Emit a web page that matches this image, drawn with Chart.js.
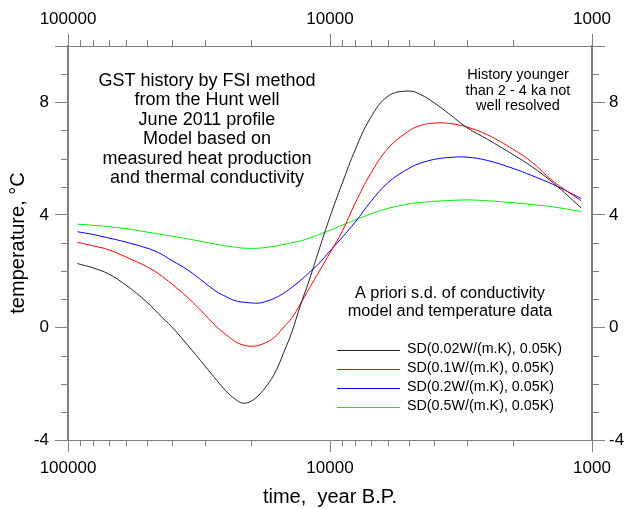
<!DOCTYPE html>
<html>
<head>
<meta charset="utf-8">
<script src="https://cdn.jsdelivr.net/npm/chart.js@4.4.0/dist/chart.umd.min.js"></script>
<style>
  html, body { margin: 0; padding: 0; background: #ffffff; }
  #wrap { width: 627px; height: 509px; }
</style>
</head>
<body>
<div id="wrap"><canvas id="c" width="627" height="509"></canvas></div>
<script>
// ---------- data ----------
const years = [92000, 80000, 70000, 60000, 50000, 45000, 40000, 35000, 30000, 27000, 25000, 23000, 21500, 20000, 18500, 17000, 16000, 15000, 14000, 13000, 12000, 11000, 10000, 9000, 8000, 7000, 6000, 5000, 4500, 4000, 3500, 3000, 2500, 2000, 1700, 1400, 1100];

const sd002 = [2.27, 2.11, 1.90, 1.50, 0.90, 0.47, 0.00, -0.62, -1.37, -1.89, -2.25, -2.55, -2.69, -2.62, -2.36, -1.93, -1.50, -0.88, -0.18, 0.76, 1.68, 2.77, 3.93, 5.10, 6.33, 7.45, 8.22, 8.40, 8.27, 7.98, 7.58, 7.10, 6.68, 6.14, 5.72, 5.12, 4.25];
const sd01  = [3.02, 2.90, 2.76, 2.50, 2.16, 1.90, 1.53, 1.07, 0.45, 0.01, -0.25, -0.50, -0.62, -0.67, -0.62, -0.47, -0.28, 0.02, 0.33, 0.82, 1.39, 1.99, 2.65, 3.40, 4.43, 5.46, 6.37, 6.98, 7.18, 7.26, 7.25, 7.12, 6.84, 6.33, 5.88, 5.18, 4.50];
const sd02  = [3.40, 3.30, 3.18, 3.03, 2.82, 2.65, 2.37, 2.05, 1.58, 1.26, 1.10, 0.95, 0.90, 0.87, 0.87, 0.97, 1.07, 1.22, 1.42, 1.66, 1.95, 2.28, 2.72, 3.19, 3.75, 4.46, 5.15, 5.65, 5.84, 5.97, 6.04, 6.05, 5.93, 5.65, 5.40, 5.07, 4.58];
const sd05  = [3.67, 3.63, 3.58, 3.51, 3.39, 3.32, 3.24, 3.15, 3.03, 2.95, 2.90, 2.85, 2.82, 2.81, 2.82, 2.86, 2.90, 2.95, 3.01, 3.07, 3.17, 3.30, 3.45, 3.63, 3.82, 4.03, 4.23, 4.39, 4.44, 4.48, 4.51, 4.53, 4.50, 4.43, 4.37, 4.28, 4.12];

const seriesLabels = ['SD(0.02W/(m.K), 0.05K)', 'SD(0.1W/(m.K), 0.05K)', 'SD(0.2W/(m.K), 0.05K)', 'SD(0.5W/(m.K), 0.05K)'];

const xTickValues = [100000, 10000, 1000];
const xMinorValues = [90000, 80000, 70000, 60000, 50000, 40000, 30000, 20000, 9000, 8000, 7000, 6000, 5000, 4000, 3000, 2000];
const yTickValues = [-4, 0, 4, 8];
const yMinorValues = [-3, -2, -1, 1, 2, 3, 5, 6, 7, 9];

const infoLines = ['GST history by FSI method', 'from the Hunt well', 'June 2011 profile', 'Model based on', 'measured heat production', 'and thermal conductivity'];
const noteLines = ['History younger', 'than 2 - 4 ka not', 'well resolved'];
const legendTitleLines = ['A priori s.d. of conductivity', 'model and temperature data'];

const xTitle = 'time,  year B.P.';
const yTitle = 'temperature, °C';

// ---------- styles ----------
const FONT = '"Liberation Sans", Arial, Helvetica, sans-serif';
const AXIS = '#808080';
const colors = ['#222222', '#ff0000', '#0000ff', '#00ee00'];
const seriesData = [sd002, sd01, sd02, sd05];

const datasets = seriesData.map((arr, i) => ({
  label: seriesLabels[i],
  data: years.map((t, j) => ({ x: t, y: arr[j] })),
  borderColor: colors[i],
  borderWidth: 1,
  pointRadius: 0,
  fill: false,
  tension: 0.4,
  xAxisID: 'x',
  yAxisID: 'y'
}));

const tickFont = { family: FONT, size: 17 };

function xAxis(pos) {
  return {
    type: 'logarithmic',
    position: pos,
    min: 1000, max: 100000,
    reverse: true,
    afterBuildTicks: s => { s.ticks = xTickValues.map(v => ({ value: v })); },
    afterFit: s => { s.height = pos === 'bottom' ? 69 : 46; },
    ticks: { callback: v => String(v), autoSkip: false, maxRotation: 0, minRotation: 0, color: '#000', font: tickFont, padding: pos === 'bottom' ? 6 : 4 },
    grid: { drawOnChartArea: false, drawTicks: true, tickLength: 12, color: AXIS, lineWidth: 1 },
    border: { display: true, color: AXIS, width: 1 },
    title: pos === 'bottom'
      ? { display: true, text: xTitle, color: '#000', font: { family: FONT, size: 20 }, padding: { top: 0, bottom: 0 } }
      : { display: false }
  };
}
function yAxis(pos) {
  return {
    type: 'linear',
    position: pos,
    min: -4, max: 10,
    afterBuildTicks: s => { s.ticks = yTickValues.concat([10]).map(v => ({ value: v })); },
    afterFit: s => { s.width = pos === 'left' ? 68 : 35; },
    ticks: { callback: v => (yTickValues.includes(v) ? String(v) : ''), color: '#000', font: tickFont, padding: pos === 'left' ? 6 : 4 },
    grid: { drawOnChartArea: false, drawTicks: true, tickLength: 13, color: AXIS, lineWidth: 1 },
    border: { display: true, color: AXIS, width: 2 },
    title: pos === 'left'
      ? { display: true, text: yTitle, color: '#000', font: { family: FONT, size: 20 }, padding: { top: 6, bottom: 0 } }
      : { display: false }
  };
}

const decorPlugin = {
  id: 'decor',
  afterDraw(chart) {
    const ctx = chart.ctx;
    const xs = chart.scales.x, ys = chart.scales.y;
    const a = chart.chartArea;
    ctx.save();
    // minor ticks
    ctx.strokeStyle = AXIS;
    ctx.lineWidth = 1;
    ctx.beginPath();
    xMinorValues.forEach(v => {
      const px = Math.round(xs.getPixelForValue(v)) + 0.5;
      ctx.moveTo(px, a.bottom); ctx.lineTo(px, a.bottom + 6);
      ctx.moveTo(px, a.top); ctx.lineTo(px, a.top - 6);
    });
    yMinorValues.forEach(v => {
      const py = Math.round(ys.getPixelForValue(v)) + 0.5;
      ctx.moveTo(a.left, py); ctx.lineTo(a.left - 7, py);
      ctx.moveTo(a.right, py); ctx.lineTo(a.right + 7, py);
    });
    ctx.stroke();

    ctx.fillStyle = '#000';
    ctx.textAlign = 'center';
    ctx.textBaseline = 'middle';
    // main info text
    ctx.font = '18px ' + FONT;
    infoLines.forEach((t, i) => ctx.fillText(t, 207, 81 + i * 19.5));
    // note
    ctx.font = '14.5px ' + FONT;
    noteLines.forEach((t, i) => ctx.fillText(t, 518, 75 + i * 15.5));
    // legend title
    ctx.font = '16.3px ' + FONT;
    legendTitleLines.forEach((t, i) => ctx.fillText(t, 450, 293.5 + i * 18.5));
    // legend entries
    ctx.font = '14.3px ' + FONT;
    ctx.textAlign = 'left';
    chart.data.datasets.forEach((ds, i) => {
      const y = 349.5 + i * 19;
      ctx.strokeStyle = ds.borderColor;
      ctx.lineWidth = 1;
      ctx.beginPath();
      ctx.moveTo(337, Math.round(y) + 0.5);
      ctx.lineTo(400, Math.round(y) + 0.5);
      ctx.stroke();
      ctx.fillText(ds.label, 407, y);
    });
    ctx.restore();
  }
};

new Chart(document.getElementById('c'), {
  type: 'line',
  data: { datasets },
  options: {
    responsive: false,
    animation: false,
    devicePixelRatio: 1,
    layout: { padding: 0 },
    plugins: { legend: { display: false }, tooltip: { enabled: false } },
    scales: {
      x: xAxis('bottom'),
      x2: xAxis('top'),
      y: yAxis('left'),
      y2: yAxis('right')
    }
  },
  plugins: [decorPlugin]
});
</script>
</body>
</html>
